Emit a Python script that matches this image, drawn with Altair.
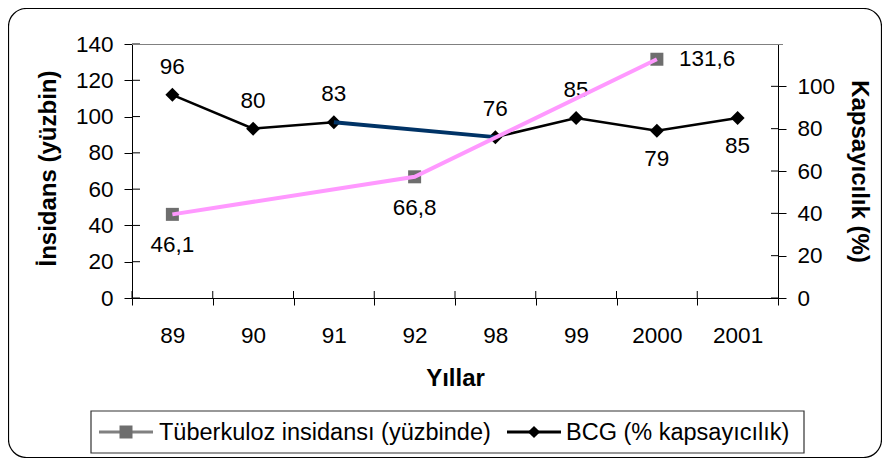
import altair as alt
import pandas as pd

# ---------------- data ----------------
years = ["89", "90", "91", "92", "98", "99", "2000", "2001"]
tuberculosis = [46.1, None, None, 66.8, None, None, 131.6, None]
bcg = [96, 80, 83, None, 76, 85, 79, 85]
left_ticks = [0, 20, 40, 60, 80, 100, 120, 140]
right_ticks = [0, 20, 40, 60, 80, 100]
series_names = ["Tüberkuloz insidansı (yüzbinde)", "BCG (% kapsayıcılık)"]
x_title = "Yıllar"
left_title = "İnsidans (yüzbin)"
right_title = "Kapsayıcılık (%)"


def fmt(v):
    if v is None:
        return None
    return f"{v:g}".replace(".", ",")


df = pd.DataFrame({"year": years, "tub": tuberculosis, "bcg": bcg})
df["tub_label"] = [fmt(v) for v in tuberculosis]
df["bcg_label"] = [fmt(v) for v in bcg]
left_tick_df = pd.DataFrame({"v": left_ticks})
right_tick_df = pd.DataFrame({"v": right_ticks})
one = alt.Data(values=[{"k": 1}])

W, H = 646, 254
FONT = "Liberation Sans"
PINK = "#FF99FF"
NAVY = "#003366"
GRAY = "#6E6E6E"
LBL = 22.5
TTL = 24
LEG = 23.5

x_axis = alt.Axis(
    title=x_title, tickBand="extent", labelAngle=0, labelFontSize=LBL,
    labelBaseline="alphabetic", labelPadding=37, tickSize=7,
    titleFontSize=TTL, titleFontWeight="bold", titleBaseline="alphabetic",
    titleY=87, domainColor="black", tickColor="black", labelColor="black",
    titleColor="black", grid=False,
)
x_scale = alt.Scale(type="band", paddingInner=0, paddingOuter=0)


def X(pos=0.5):
    return alt.X("year:N", sort=years, scale=x_scale, axis=x_axis, bandPosition=pos)


left_axis = alt.Axis(
    orient="left", values=left_ticks, title=left_title, labelFontSize=LBL,
    labelPadding=11, tickSize=8, titleFontSize=TTL, titleFontWeight="bold",
    titleX=-84, titleY=124, titleBaseline="middle", domainColor="black",
    tickColor="black", labelColor="black", titleColor="black", grid=False,
)
right_axis = alt.Axis(
    orient="right", values=right_ticks, title=right_title, labelFontSize=LBL,
    labelPadding=11, tickSize=8, titleFontSize=TTL, titleFontWeight="bold",
    titleX=80, titleBaseline="middle", domainColor="black",
    tickColor="black", labelColor="black", titleColor="black", grid=False,
)
left_scale = alt.Scale(domain=[0, 140], nice=False)
right_scale = alt.Scale(domain=[0, 120], nice=False)


def YL(field):
    return alt.Y(field, scale=left_scale, axis=left_axis)


def YR(field):
    return alt.Y(field, scale=right_scale, axis=right_axis)


# ---------------- right-axis group (BCG) ----------------
bcg_line = alt.Chart(df).mark_line(
    color="black", strokeWidth=2.5, invalid="break-paths-filter-domains"
).encode(x=X(), y=YR("bcg:Q"))
bcg_gap = alt.Chart(df).transform_filter(
    alt.FieldOneOfPredicate(field="year", oneOf=["91", "98"])
).mark_line(color=NAVY, strokeWidth=4).encode(x=X(), y=YR("bcg:Q"))
bcg_pts = alt.Chart(df).mark_point(
    shape="diamond", filled=True, color="black", size=196, opacity=1
).encode(x=X(), y=YR("bcg:Q"))
bcg_lab_up = alt.Chart(df).transform_filter(
    alt.FieldOneOfPredicate(field="year", oneOf=["89", "90", "91", "98", "99"])
).mark_text(dy=-28, fontSize=LBL, color="black").encode(
    x=X(), y=YR("bcg:Q"), text="bcg_label:N")
bcg_lab_dn = alt.Chart(df).transform_filter(
    alt.FieldOneOfPredicate(field="year", oneOf=["2000", "2001"])
).mark_text(dy=28, fontSize=LBL, color="black").encode(
    x=X(), y=YR("bcg:Q"), text="bcg_label:N")
right_inner = alt.Chart(right_tick_df).mark_rule(color="black").encode(
    x=alt.value(W - 7), x2=alt.value(W), y=YR("v:Q"))

right_group = alt.layer(bcg_line, bcg_pts, bcg_gap, bcg_lab_up, bcg_lab_dn, right_inner)

# ---------------- left-axis group (Tuberculosis) ----------------
tub_pts = alt.Chart(df).mark_point(
    shape="square", filled=True, color=GRAY, size=169, opacity=1
).encode(x=X(), y=YL("tub:Q"))
tub_line = alt.Chart(df).mark_line(
    color=PINK, strokeWidth=4, invalid="filter"
).encode(x=X(), y=YL("tub:Q"))
tub_lab_dn = alt.Chart(df).transform_filter(
    alt.FieldOneOfPredicate(field="year", oneOf=["89", "92"])
).mark_text(dy=31, fontSize=LBL, color="black").encode(
    x=X(), y=YL("tub:Q"), text="tub_label:N")
tub_lab_rt = alt.Chart(df).transform_filter(
    alt.FieldOneOfPredicate(field="year", oneOf=["2000"])
).mark_text(dx=22, align="left", fontSize=LBL, color="black").encode(
    x=X(), y=YL("tub:Q"), text="tub_label:N")
left_inner = alt.Chart(left_tick_df).mark_rule(color="black").encode(
    x=alt.value(0), x2=alt.value(8), y=YL("v:Q"))
x_inner = alt.Chart(df).mark_rule(color="black").encode(
    x=X(0), y=alt.value(H - 7), y2=alt.value(H))

# decorations: top frame line, outer rounded border, legend
top_line = alt.Chart(one).mark_rule(color="#808080", strokeWidth=1).encode(
    x=alt.value(0), x2=alt.value(W + 5), y=alt.value(0.5))
outer = alt.Chart(one).mark_rect(
    fill=None, stroke="black", strokeWidth=1.2, cornerRadius=18
).encode(x=alt.value(-123.5), x2=alt.value(749.5), y=alt.value(-35.5), y2=alt.value(413.5))
leg_box = alt.Chart(one).mark_rect(
    fill="white", stroke="#333333", strokeWidth=1.2
).encode(x=alt.value(-41), x2=alt.value(672), y=alt.value(367), y2=alt.value(409))
LY = 388
leg_l1 = alt.Chart(one).mark_rule(color="#808080", strokeWidth=3).encode(
    x=alt.value(-33), x2=alt.value(21), y=alt.value(LY))
leg_p1 = alt.Chart(one).mark_point(
    shape="square", filled=True, color=GRAY, size=169, opacity=1
).encode(x=alt.value(-6), y=alt.value(LY))
leg_t1 = alt.Chart(one).mark_text(
    align="left", baseline="middle", fontSize=LEG, color="black"
).encode(x=alt.value(27), y=alt.value(LY + 1), text=alt.value(series_names[0]))
leg_l2 = alt.Chart(one).mark_rule(color="black", strokeWidth=3).encode(
    x=alt.value(375), x2=alt.value(429), y=alt.value(LY))
leg_p2 = alt.Chart(one).mark_point(
    shape="diamond", filled=True, color="black", size=150, opacity=1
).encode(x=alt.value(402), y=alt.value(LY))
leg_t2 = alt.Chart(one).mark_text(
    align="left", baseline="middle", fontSize=LEG, color="black"
).encode(x=alt.value(434), y=alt.value(LY + 1), text=alt.value(series_names[1]))

left_group = alt.layer(
    tub_pts, tub_line, tub_lab_dn, tub_lab_rt, left_inner, x_inner, top_line,
    outer, leg_box, leg_l1, leg_p1, leg_t1, leg_l2, leg_p2, leg_t2,
)

chart = (
    alt.layer(right_group, left_group)
    .resolve_scale(y="independent")
    .properties(
        width=W, height=H,
        padding={"left": 124, "top": 36, "right": 104, "bottom": 160},
        autosize=alt.AutoSizeParams(type="none"),
    )
    .configure(font=FONT)
    .configure_view(stroke=None)
)

chart.save("out.html", embed_options={"renderer": "svg", "actions": False})
